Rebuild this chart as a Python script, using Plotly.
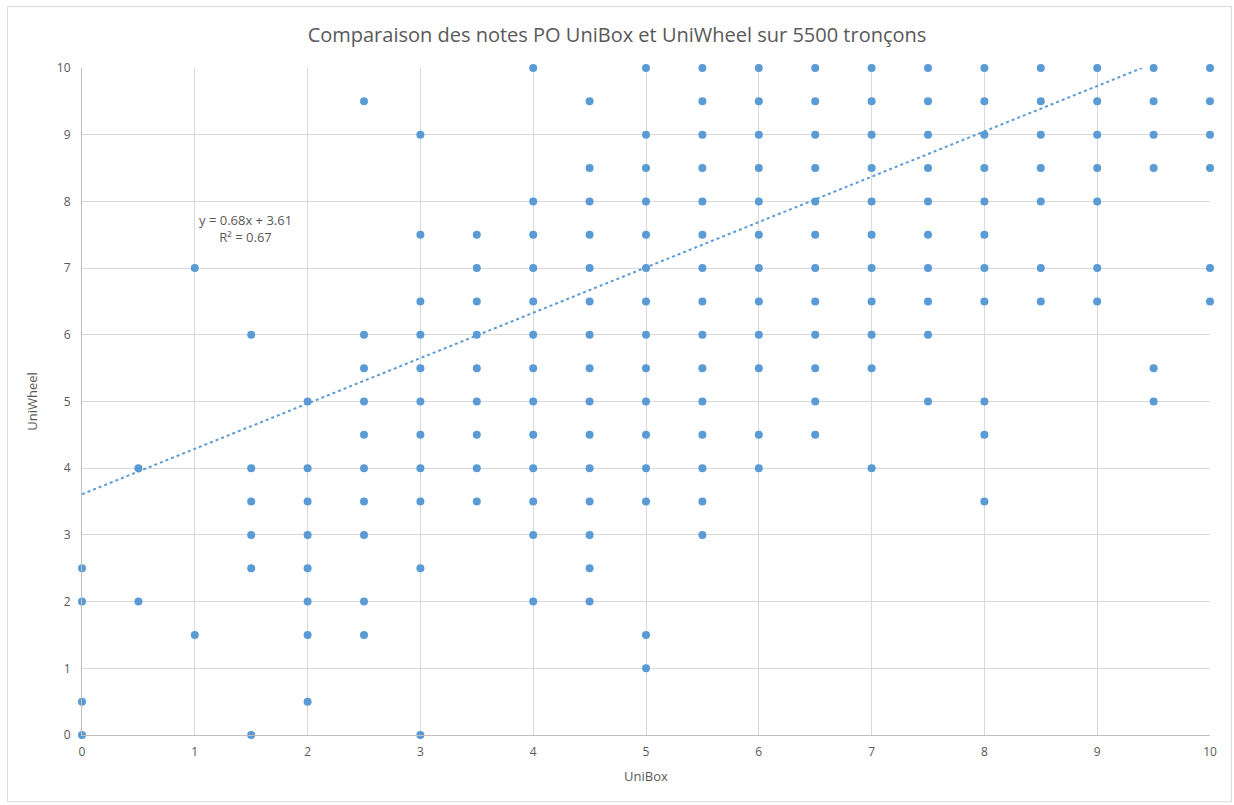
import plotly.graph_objects as go

# UniWheel scores observed for each UniBox score (0.5 steps)
unibox_scores = [0, 0.5, 1, 1.5, 2, 2.5, 3, 3.5, 4, 4.5, 5, 5.5, 6, 6.5, 7, 7.5, 8, 8.5, 9, 9.5, 10]
uniwheel_by_unibox = [
    [0, 0.5, 2, 2.5],
    [2, 4],
    [1.5, 7],
    [0, 2.5, 3, 3.5, 4, 6],
    [0.5, 1.5, 2, 2.5, 3, 3.5, 4, 5],
    [1.5, 2, 3, 3.5, 4, 4.5, 5, 5.5, 6, 9.5],
    [0, 2.5, 3.5, 4, 4.5, 5, 5.5, 6, 6.5, 7.5, 9],
    [3.5, 4, 4.5, 5, 5.5, 6, 6.5, 7, 7.5],
    [2, 3, 3.5, 4, 4.5, 5, 5.5, 6, 6.5, 7, 7.5, 8, 10],
    [2, 2.5, 3, 3.5, 4, 4.5, 5, 5.5, 6, 6.5, 7, 7.5, 8, 8.5, 9.5],
    [1, 1.5, 3.5, 4, 4.5, 5, 5.5, 6, 6.5, 7, 7.5, 8, 8.5, 9, 10],
    [3, 3.5, 4, 4.5, 5, 5.5, 6, 6.5, 7, 7.5, 8, 8.5, 9, 9.5, 10],
    [4, 4.5, 5.5, 6, 6.5, 7, 7.5, 8, 8.5, 9, 9.5, 10],
    [4.5, 5, 5.5, 6, 6.5, 7, 7.5, 8, 8.5, 9, 9.5, 10],
    [4, 5.5, 6, 6.5, 7, 7.5, 8, 8.5, 9, 9.5, 10],
    [5, 6, 6.5, 7, 7.5, 8, 8.5, 9, 9.5, 10],
    [3.5, 4.5, 5, 6.5, 7, 7.5, 8, 8.5, 9, 9.5, 10],
    [6.5, 7, 8, 8.5, 9, 9.5, 10],
    [6.5, 7, 8, 8.5, 9, 9.5, 10],
    [5, 5.5, 8.5, 9, 9.5, 10],
    [6.5, 7, 8.5, 9, 9.5, 10],
]

# Linear trend reported on the chart
slope = 0.68
intercept = 3.61
r_squared = 0.67

xs, ys = [], []
for xv, col in zip(unibox_scores, uniwheel_by_unibox):
    for yv in col:
        xs.append(xv)
        ys.append(yv)

x_end = (10 - intercept) / slope
trend_x = [0, x_end]
trend_y = [intercept + slope * v for v in trend_x]

blue = "#5b9bd5"
grey_text = "#595959"
font_family = "Open Sans, Liberation Sans, sans-serif"

fig = go.Figure()
fig.add_trace(go.Scatter(
    x=trend_x, y=trend_y, mode="lines",
    line=dict(color=blue, width=2, dash="dot"),
    hoverinfo="skip", showlegend=False,
))
fig.add_trace(go.Scatter(
    x=xs, y=ys, mode="markers",
    marker=dict(color=blue, size=8, line=dict(width=0)),
    cliponaxis=False, showlegend=False,
))

fig.add_annotation(
    x=1.45, y=7.6, xref="x", yref="y",
    text=f"y = {slope:.2f}x + {intercept:.2f}<br>R² = {r_squared:.2f}",
    showarrow=False, align="center",
    font=dict(family=font_family, size=13, color=grey_text),
)

# light frame around the chart
fig.add_shape(
    type="rect", xref="paper", yref="paper",
    x0=-0.066, x1=1.019, y0=-0.1, y1=1.092,
    line=dict(color="#d9d9d9", width=1), layer="below",
)

fig.update_layout(
    width=1234, height=805,
    margin=dict(l=82, r=24, t=68, b=70),
    paper_bgcolor="white", plot_bgcolor="white",
    title=dict(
        text="Comparaison des notes PO UniBox et UniWheel sur 5500 tronçons",
        x=0.5, xanchor="center", y=0.957, yanchor="middle",
        font=dict(family=font_family, size=20, color=grey_text),
    ),
    font=dict(family=font_family, size=12, color=grey_text),
)
fig.update_xaxes(
    range=[0, 10], dtick=1, tick0=0,
    showgrid=True, gridcolor="#d9d9d9", gridwidth=1,
    zeroline=False, showline=True, linecolor="#bfbfbf", linewidth=1,
    ticks="", ticklabelstandoff=6,
    title=dict(text="UniBox", font=dict(family=font_family, size=13, color=grey_text), standoff=12),
)
fig.update_yaxes(
    range=[0, 10], dtick=1, tick0=0,
    showgrid=True, gridcolor="#d9d9d9", gridwidth=1,
    zeroline=False, showline=True, linecolor="#bfbfbf", linewidth=1,
    ticks="", ticklabelstandoff=8,
    title=dict(text="UniWheel", font=dict(family=font_family, size=13, color=grey_text), standoff=16),
)

fig.write_html("out.html")
